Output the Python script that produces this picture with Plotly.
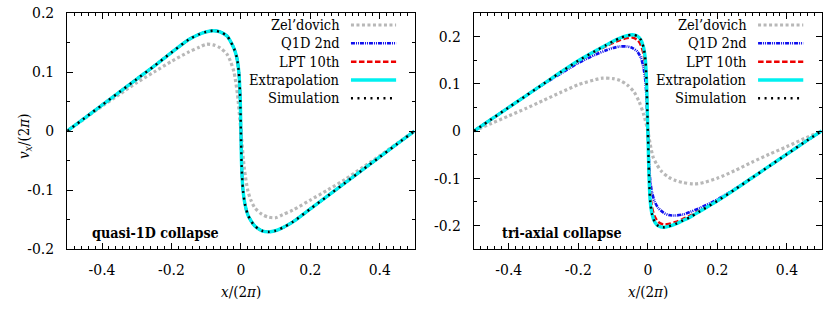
import plotly.graph_objects as go

# ---------------- data ----------------
L_sim_x = [-0.5, -0.45, -0.4, -0.35, -0.3, -0.25, -0.2, -0.15, -0.12, -0.1, -0.08, -0.06, -0.04, -0.03,
           -0.02, -0.012, -0.006, -0.002, 0.0, 0.002, 0.006, 0.012, 0.02, 0.03, 0.04, 0.06, 0.08, 0.1,
           0.12, 0.15, 0.2, 0.25, 0.3, 0.35, 0.4, 0.45, 0.5]
L_sim_v = [0.0, 0.022, 0.044, 0.066, 0.088, 0.110, 0.133, 0.155, 0.164, 0.168, 0.170, 0.168, 0.161, 0.152,
           0.140, 0.125, 0.100, 0.055, 0.0, -0.057, -0.100, -0.125, -0.142, -0.153, -0.161, -0.169, -0.171,
           -0.169, -0.164, -0.154, -0.132, -0.110, -0.088, -0.066, -0.044, -0.022, 0.0]

L_zel_x = [-0.5, -0.45, -0.4, -0.35, -0.3, -0.25, -0.2, -0.15, -0.12, -0.1, -0.08, -0.06, -0.04, -0.03,
           -0.02, -0.01, 0.0, 0.01, 0.02, 0.03, 0.04, 0.06, 0.08, 0.1, 0.12, 0.15, 0.2, 0.25, 0.3, 0.35,
           0.4, 0.45, 0.5]
L_zel_v = [0.0, 0.021, 0.042, 0.062, 0.082, 0.100, 0.118, 0.134, 0.142, 0.147, 0.146, 0.141, 0.130, 0.118,
           0.100, 0.062, 0.0, -0.064, -0.101, -0.119, -0.130, -0.141, -0.146, -0.147, -0.142, -0.134,
           -0.117, -0.100, -0.082, -0.062, -0.042, -0.021, 0.0]

R_x = [-0.5, -0.45, -0.4, -0.35, -0.3, -0.25, -0.2, -0.15, -0.12, -0.1, -0.08, -0.06, -0.045, -0.03,
       -0.02, -0.012, -0.007, -0.004, -0.002, 0.0, 0.002, 0.004, 0.007, 0.012, 0.02, 0.03, 0.045, 0.06,
       0.08, 0.1, 0.12, 0.15, 0.2, 0.25, 0.3, 0.35, 0.4, 0.45, 0.5]
R_sim_v = [0.0, 0.025, 0.050, 0.075, 0.100, 0.125, 0.149, 0.170, 0.182, 0.190, 0.197, 0.202, 0.204, 0.201,
           0.193, 0.176, 0.150, 0.110, 0.060, 0.0, -0.060, -0.110, -0.150, -0.176, -0.193, -0.201, -0.204,
           -0.202, -0.197, -0.190, -0.183, -0.170, -0.148, -0.124, -0.099, -0.074, -0.049, -0.024, 0.0]
R_lpt_v = [0.0, 0.025, 0.050, 0.075, 0.100, 0.125, 0.148, 0.169, 0.180, 0.187, 0.193, 0.197, 0.198, 0.193,
           0.182, 0.162, 0.132, 0.095, 0.050, 0.0, -0.050, -0.095, -0.132, -0.162, -0.182, -0.193, -0.198,
           -0.197, -0.193, -0.187, -0.180, -0.169, -0.148, -0.124, -0.099, -0.074, -0.049, -0.024, 0.0]
R_q1d_v = [0.0, 0.025, 0.050, 0.075, 0.099, 0.122, 0.144, 0.162, 0.171, 0.176, 0.179, 0.179, 0.176, 0.168,
           0.155, 0.132, 0.105, 0.072, 0.038, 0.0, -0.040, -0.075, -0.105, -0.130, -0.150, -0.163, -0.173,
           -0.178, -0.179, -0.177, -0.172, -0.163, -0.145, -0.123, -0.099, -0.074, -0.049, -0.024, 0.0]

R_zel_x = [-0.5, -0.45, -0.4, -0.35, -0.3, -0.25, -0.2, -0.15, -0.13, -0.1, -0.08, -0.06, -0.04, -0.025,
           -0.012, 0.0, 0.006, 0.015, 0.025, 0.04, 0.06, 0.08, 0.1, 0.13, 0.15, 0.2, 0.25, 0.3, 0.35, 0.4,
           0.45, 0.5]
R_zel_v = [0.0, 0.016, 0.032, 0.048, 0.065, 0.082, 0.098, 0.109, 0.112, 0.111, 0.107, 0.098, 0.083, 0.062,
           0.035, 0.0, -0.025, -0.055, -0.070, -0.086, -0.098, -0.105, -0.109, -0.112, -0.111, -0.100,
           -0.084, -0.066, -0.049, -0.033, -0.016, 0.0]

series_names = ["Zel\u2019dovich", "Q1D 2nd", "LPT 10th", "Extrapolation", "Simulation"]
panel_labels = ["quasi-1D collapse", "tri-axial collapse"]
x_ticks = [-0.4, -0.2, 0, 0.2, 0.4]
x_tick_text = ["-0.4", "-0.2", "0", "0.2", "0.4"]
yL_ticks = [-0.2, -0.1, 0, 0.1, 0.2]
yL_tick_text = ["-0.2", "-0.1", "0", "0.1", "0.2"]
yR_ticks = [-0.2, -0.1, 0, 0.1, 0.2]
yR_tick_text = ["-0.2", "-0.1", "0", "0.1", "0.2"]

# ---------------- styles ----------------
FONT = "DejaVu Serif Condensed, DejaVu Serif"
FS_TICK = 15.5
FS_KEY = 14.5
FS_LAB = 14.2
FS_TITLE = 15
styles = [
    dict(color="#b8b8b8", width=3.2, dash="3px,2.5px"),
    dict(color="#1010ee", width=2.6, dash="4px,1px,1px,1px,1px,1px"),
    dict(color="#ee0000", width=2.6, dash="5.5px,2.5px"),
    dict(color="#00f0f0", width=3.4, dash="solid"),
    dict(color="#000000", width=2.4, dash="2px,4.5px"),
]

panels = [
    dict(xa="x", ya="y",
         data=[(L_zel_x, L_zel_v), (L_sim_x, L_sim_v), (L_sim_x, L_sim_v), (L_sim_x, L_sim_v), (L_sim_x, L_sim_v)]),
    dict(xa="x2", ya="y2",
         data=[(R_zel_x, R_zel_v), (R_x, R_q1d_v), (R_x, R_lpt_v), (R_x, R_sim_v), (R_x, R_sim_v)]),
]

fig = go.Figure()
for p in panels:
    for name, (xs, vs), st in zip(series_names, p["data"], styles):
        fig.add_trace(go.Scatter(x=xs, y=vs, mode="lines", name=name, showlegend=False,
                                 line=dict(color=st["color"], width=st["width"], dash=st["dash"],
                                           shape="spline", smoothing=0.8),
                                 xaxis=p["xa"], yaxis=p["ya"], hoverinfo="skip"))

W, H = 831, 309

def px(xpix):
    return xpix / W

def py(ypix):
    return 1 - ypix / H

top_px, bot_px = 13, 249
yd = [py(bot_px), py(top_px)]
xdL = [px(67.3), px(414.5)]
xdR = [px(474.0), px(821.7)]

def xaxis(domain, anchor):
    return dict(domain=domain, anchor=anchor, range=[-0.5, 0.5], tickvals=x_ticks, ticktext=x_tick_text,
                ticks="inside", ticklen=6, tickwidth=1, tickcolor="black", mirror="allticks",
                showline=True, linecolor="black", linewidth=1, showgrid=False, zeroline=False,
                automargin=False, ticklabeloverflow="allow",
                tickfont=dict(family=FONT, size=FS_TICK, color="black"), ticklabelstandoff=6,
                minor=dict(dtick=0.02, tick0=0, ticks="inside", ticklen=3, tickcolor="black", showgrid=False))

def yaxis(domain, anchor, rng, tv, tt):
    return dict(domain=domain, anchor=anchor, range=rng, tickvals=tv, ticktext=tt,
                ticks="inside", ticklen=6, tickwidth=1, tickcolor="black", mirror="allticks",
                showline=True, linecolor="black", linewidth=1, showgrid=False, zeroline=False,
                automargin=False, ticklabeloverflow="allow",
                tickfont=dict(family=FONT, size=FS_TICK, color="black"), ticklabelstandoff=9,
                minor=dict(dtick=0.05, tick0=0, ticks="inside", ticklen=3, tickcolor="black", showgrid=False))

fig.update_layout(
    template="none",
    width=W, height=H, margin=dict(l=0, r=0, t=0, b=0, autoexpand=False),
    paper_bgcolor="white", plot_bgcolor="white", showlegend=False,
    font=dict(family=FONT, size=FS_KEY, color="black"),
    xaxis=xaxis(xdL, "y"), yaxis=yaxis(yd, "x", [-0.2, 0.2], yL_ticks, yL_tick_text),
    xaxis2=xaxis(xdR, "y2"), yaxis2=yaxis(yd, "x2", [-0.25, 0.25], yR_ticks, yR_tick_text),
)

# axis titles
for xd in (xdL, xdR):
    fig.add_annotation(text="<i>x</i>/(2<i>\u03c0</i>)", xref="paper", yref="paper",
                       x=(xd[0] + xd[1]) / 2, y=py(292), xanchor="center", yanchor="middle",
                       showarrow=False, font=dict(family=FONT, size=FS_TITLE))
fig.add_annotation(text="<i>v</i><sub><i>x</i></sub>/(2<i>\u03c0</i>)", xref="paper", yref="paper",
                   x=px(24), y=py(136), xanchor="center", yanchor="middle", textangle=-90,
                   showarrow=False, font=dict(family=FONT, size=FS_TITLE))

# panel labels
for (xr, yr), lab, dx in zip([("x domain", "y domain"), ("x2 domain", "y2 domain")], panel_labels, [0.065, 0.075]):
    fig.add_annotation(text="<b>" + lab + "</b>", xref=xr, yref=yr, x=dx, y=(bot_px - 232.7) / (bot_px - top_px),
                       xanchor="left", yanchor="middle", showarrow=False, font=dict(family=FONT, size=FS_LAB))

# key (text right-aligned, sample line to its right), as in the reference
rows_px = [25, 43.3, 61.7, 80, 98.3]
for xr, yr in [("x domain", "y domain"), ("x2 domain", "y2 domain")]:
    for name, st, rp in zip(series_names, styles, rows_px):
        yy = (bot_px - rp) / (bot_px - top_px)
        fig.add_annotation(text=name, xref=xr, yref=yr, x=0.791, y=yy, xanchor="right", yanchor="middle",
                           showarrow=False, font=dict(family=FONT, size=FS_KEY))
        fig.add_shape(type="line", xref=xr, yref=yr, x0=0.817, x1=0.947, y0=yy, y1=yy,
                      line=dict(color=st["color"], width=st["width"], dash=st["dash"]))

# remove the default 8px page margin so the figure sits at the window corner
fig.write_html("out.html", config={"displayModeBar": False},
               post_script="document.body.style.margin='0px';")
